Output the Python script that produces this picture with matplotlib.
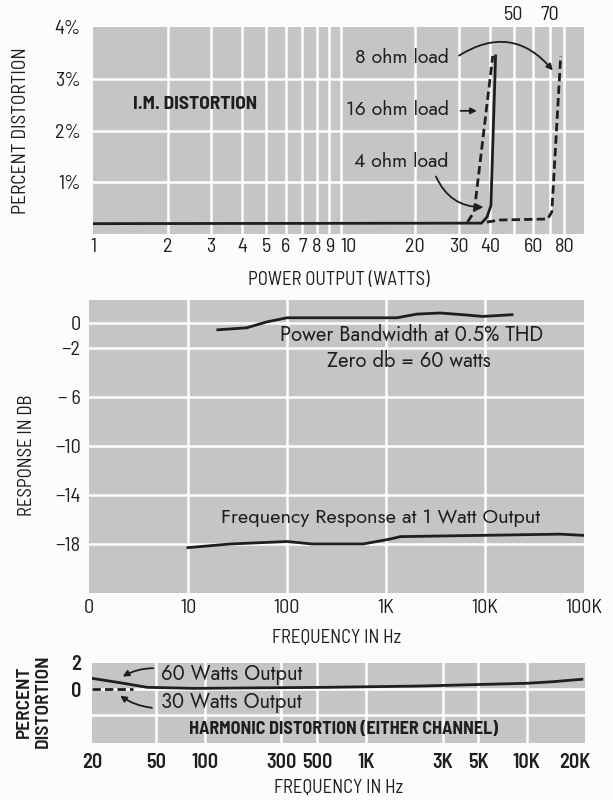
import matplotlib
matplotlib.use('Agg')
import matplotlib.pyplot as plt

# ---- data ----
# I.M. distortion vs power output
im_ticks = [1, 2, 3, 4, 5, 6, 7, 8, 9, 10, 20, 30, 40, 60, 80]
im_top_ticks = [50, 70]
im_grid = [2, 3, 4, 5, 6, 7, 8, 9, 10, 20, 30, 40, 50, 60, 70, 80]
im_yticks = [1, 2, 3, 4]

p_4ohm = [1, 37, 39, 40.4, 42.2]
d_4ohm = [0.2, 0.21, 0.33, 0.55, 3.44]
p_16ohm = [32.5, 34.6, 41.1]
d_16ohm = [0.23, 0.43, 3.44]
p_8ohm = [38.9, 43.7, 55, 68.5, 71.2, 77.3]
d_8ohm = [0.23, 0.27, 0.28, 0.29, 0.43, 3.44]

# response in dB
resp_xticks = [1, 10, 100, 1e3, 1e4, 1e5]
resp_xlabels = ['0', '10', '100', '1K', '10K', '100K']
resp_yticks = [0, -2, -6, -10, -14, -18]
resp_ylabels = ['0', '\u22122', '\u2212 6', '\u221210', '\u221214', '\u221218']

pb_f = [20, 39, 63, 100, 320, 1290, 2050, 3500, 6000, 9500, 18750]
pb_db = [-0.53, -0.37, 0.12, 0.45, 0.45, 0.45, 0.75, 0.84, 0.7, 0.56, 0.7]
fr_f = [10, 27, 100, 180, 590, 1100, 1400, 8900, 57000, 100000]
fr_db = [-18.3, -18.0, -17.8, -18.0, -18.0, -17.6, -17.4, -17.3, -17.2, -17.3]

# harmonic distortion
hd_xticks = [20, 50, 100, 300, 500, 1e3, 3e3, 5e3, 1e4, 2e4]
hd_xlabels = ['20', '50', '100', '300', '500', '1K', '3K', '5K', '10K', '20K']
w60_f = [20, 30, 44, 85, 573, 2180, 5560, 9960, 14500, 22000]
w60_d = [0.82, 0.48, 0.13, 0.05, 0.13, 0.23, 0.36, 0.44, 0.56, 0.75]
w30_f = [20, 36]
w30_d = [0, 0]

# ---- fonts (lists so missing families fall back) ----
COND = ['Barlow Semi Condensed', 'Archivo Narrow', 'DejaVu Sans']
GEO = ['Jost', 'Lato', 'DejaVu Sans']

PAPER = '#fcfcfa'
SCREEN = '#c5c5c3'
INK = '#1e1e1e'
LW = 2.0
TICK = 14.5
LAB = 13.5

fig = plt.figure(figsize=(6.13, 8.0), dpi=100, facecolor=PAPER)


def panel(rect):
    ax = fig.add_axes(rect)
    ax.set_facecolor(SCREEN)
    for s in ax.spines.values():
        s.set_visible(False)
    ax.tick_params(length=0, colors=INK)
    ax.set_xscale('log')
    ax.minorticks_off()
    return ax


# ---------- top: I.M. distortion ----------
ax1 = panel([93 / 613, 1 - 234 / 800, 491 / 613, 207 / 800])
ax1.set_xlim(1, 96)
ax1.set_ylim(0, 4.0)
for x in im_grid:
    ax1.axvline(x, color='white', lw=1.8, zorder=1)
for y in im_yticks[:-1]:
    ax1.axhline(y, color='white', lw=1.8, zorder=1)

ax1.plot(p_4ohm, d_4ohm, color=INK, lw=LW, zorder=3)
ax1.plot(p_16ohm, d_16ohm, color=INK, lw=LW, dashes=(3, 1.5), zorder=3)
ax1.plot(p_8ohm, d_8ohm, color=INK, lw=LW, dashes=(3, 1.5), zorder=3)

ax1.set_xticks(im_ticks)
ax1.set_xticklabels([str(t) for t in im_ticks], fontsize=TICK, family=COND)
for lab in ax1.get_xticklabels():
    if lab.get_text() == '10':
        lab.set_ha('left')
ax1.set_yticks(im_yticks)
ax1.set_yticklabels(['%d%%' % t for t in im_yticks], fontsize=TICK, family=COND)
ax1.tick_params(axis='x', pad=3)
ax1.tick_params(axis='y', pad=9)
for t in im_top_ticks:
    ax1.text(t, 4.06, str(t), ha='center', va='bottom', fontsize=TICK,
             color=INK, family=COND)
ax1.set_xlabel('POWER OUTPUT (WATTS)', fontsize=LAB, color=INK, labelpad=11,
               family=COND)
ax1.set_ylabel('PERCENT DISTORTION', fontsize=LAB + 0.5, color=INK, family=COND)
ax1.yaxis.set_label_coords(-0.128, 0.5)

ax1.text(1.45, 2.51, 'I.M. DISTORTION', fontsize=14, fontweight='bold',
         color=INK, va='center', family=COND)
ax1.text(27.3, 3.42, '8 ohm load', fontsize=14, family=GEO, color=INK,
         ha='right', va='center')
ax1.text(27.3, 2.40, '16 ohm load', fontsize=14, family=GEO, color=INK,
         ha='right', va='center')
ax1.text(27.3, 1.41, '4 ohm load', fontsize=14, family=GEO, color=INK,
         ha='right', va='center')
arr = dict(arrowstyle='-|>', color=INK, lw=1.3, mutation_scale=9)
ax1.annotate('', xy=(73, 3.12), xytext=(29.4, 3.42),
             arrowprops=dict(arr, connectionstyle='arc3,rad=-0.45'))
ax1.annotate('', xy=(36.4, 2.38), xytext=(29.7, 2.38), arrowprops=arr)
ax1.annotate('', xy=(38.7, 0.52), xytext=(24.0, 1.16),
             arrowprops=dict(arr, connectionstyle='arc3,rad=0.35'))

# ---------- middle: response in dB ----------
ax2 = panel([89 / 613, 1 - 593 / 800, 495 / 613, 293 / 800])
ax2.set_xlim(1, 1e5)
ax2.set_ylim(-22.0, 1.9)
for x in resp_xticks[1:-1]:
    ax2.axvline(x, color='white', lw=1.8, zorder=1)
for y in resp_yticks:
    ax2.axhline(y, color='white', lw=1.8, zorder=1)
ax2.plot(pb_f, pb_db, color=INK, lw=LW, zorder=3)
ax2.plot(fr_f, fr_db, color=INK, lw=LW, zorder=3)

ax2.set_xticks(resp_xticks)
ax2.set_xticklabels(resp_xlabels, fontsize=TICK, family=COND)
ax2.set_yticks(resp_yticks)
ax2.set_yticklabels(resp_ylabels, fontsize=TICK, family=COND)
ax2.tick_params(axis='x', pad=4)
ax2.tick_params(axis='y', pad=6)
ax2.set_xlabel('FREQUENCY IN Hz', fontsize=LAB, color=INK, labelpad=9,
               family=COND)
ax2.set_ylabel('RESPONSE IN DB', fontsize=LAB, color=INK, family=COND)
ax2.yaxis.set_label_coords(-0.107, 0.47)

ax2.text(1830, -0.94, 'Power Bandwidth at 0.5% THD', fontsize=14.5,
         family=GEO, color=INK, ha='center', va='center')
ax2.text(1700, -3.0, 'Zero db = 60 watts', fontsize=14.5,
         family=GEO, color=INK, ha='center', va='center')
ax2.text(890, -15.86, 'Frequency Response at 1 Watt Output', fontsize=14.3,
         family=GEO, color=INK, ha='center', va='center')

# ---------- bottom: harmonic distortion ----------
ax3 = panel([92 / 613, 1 - 743 / 800, 493 / 613, 80 / 800])
ax3.set_xlim(20, 23000)
ax3.set_ylim(-4.15, 2.0)
for x in hd_xticks[1:-1]:
    ax3.axvline(x, color='white', lw=1.8, zorder=1)
for y in [0, -2]:
    ax3.axhline(y, color='white', lw=1.8, zorder=1)
ax3.plot(w30_f, w30_d, color=INK, lw=LW, dashes=(3, 1.5), zorder=3)
ax3.plot(w60_f, w60_d, color=INK, lw=LW, zorder=3)

ax3.set_xticks(hd_xticks)
ax3.set_xticklabels(hd_xlabels, fontsize=TICK, fontweight='semibold', family=COND)
ax3.set_yticks([2, 0])
ax3.set_yticklabels(['2', '0'], fontsize=TICK, fontweight='semibold', family=COND)
ax3.tick_params(axis='x', pad=7)
ax3.tick_params(axis='y', pad=8)
ax3.set_xlabel('FREQUENCY IN Hz', fontsize=LAB, color=INK, labelpad=5,
               family=COND)
ax3.set_ylabel('PERCENT\nDISTORTION', fontsize=14, fontweight='semibold',
               color=INK, linespacing=1.1, family=COND)
ax3.yaxis.set_label_coords(-0.082, 0.52)

ax3.text(54, 1.15, '60 Watts Output', fontsize=14.5, family=GEO, color=INK,
         va='center')
ax3.text(54, -1.0, '30 Watts Output', fontsize=14.5, family=GEO, color=INK,
         va='center')
ax3.text(734, -3.08, 'HARMONIC DISTORTION (EITHER CHANNEL)', fontsize=13,
         fontweight='bold', color=INK, ha='center', va='center', family=COND)
ax3.annotate('', xy=(30, 0.85), xytext=(50, 1.6),
             arrowprops=dict(arr, connectionstyle='arc3,rad=0.15'))
ax3.annotate('', xy=(29, -0.38), xytext=(49, -1.46),
             arrowprops=dict(arr, connectionstyle='arc3,rad=-0.15'))

fig.savefig('out.png', dpi=100, facecolor=PAPER)
